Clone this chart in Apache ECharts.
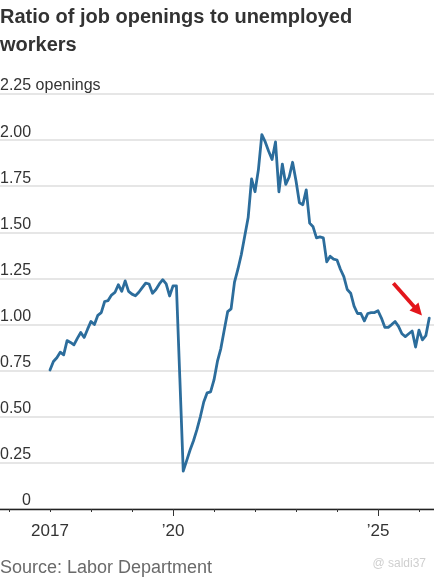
<!DOCTYPE html>
<html><head><meta charset="utf-8">
<script src="https://cdn.jsdelivr.net/npm/echarts@6/dist/echarts.min.js"></script>
<style>html,body{margin:0;padding:0;background:#fff}#c{width:434px;height:579px}</style>
</head><body><div id="c"></div>
<script>
// Monthly ratio of job openings to unemployed workers, Jan 2017 onward
const firstMonth = 24; // Jan 2017, counted in months since Jan 2015
const ratio = [
  0.754, 0.80, 0.82, 0.85, 0.836, 0.913, 0.903, 0.89, 0.925, 0.957, 0.93, 0.975,
  1.017, 1.00, 1.05, 1.065, 1.125, 1.13, 1.16, 1.174, 1.216, 1.18, 1.237, 1.18,
  1.165, 1.156, 1.175, 1.20, 1.225, 1.22, 1.17, 1.19, 1.22, 1.243, 1.22, 1.155,
  1.21, 1.21, 0.71, 0.205, 0.262, 0.32, 0.37, 0.43, 0.50, 0.58, 0.63, 0.635,
  0.70, 0.80, 0.87, 0.97, 1.07, 1.085, 1.23, 1.30, 1.38, 1.48, 1.58, 1.79,
  1.72, 1.84, 2.03, 1.99, 1.94, 1.895, 1.99, 1.72, 1.87, 1.76, 1.80, 1.88,
  1.78, 1.66, 1.65, 1.73, 1.55, 1.53, 1.47, 1.475, 1.47, 1.34, 1.37, 1.355,
  1.35, 1.30, 1.26, 1.19, 1.17, 1.10, 1.06, 1.06, 1.02, 1.06, 1.065, 1.065,
  1.075, 1.035, 0.985, 0.985, 1.0, 1.017, 0.99, 0.95, 0.935, 0.95, 0.965, 0.878,
  0.97, 0.917, 0.94, 1.035
];
const xTickLabels = { 24: '2017', 60: '\u201920', 120: '\u201925' };
const yUnit = 'openings';
const arrowFrom = [124.5, 1.224];
const arrowTo = [131.7, 1.074];

const FONT = 'Liberation Sans, Arial, sans-serif';
const chart = echarts.init(document.getElementById('c'), null, { renderer: 'canvas' });
const seriesData = ratio.map((v, i) => [firstMonth + i, v]);

chart.setOption({
  animation: false,
  backgroundColor: '#fff',
  title: {
    text: 'Ratio of job openings to unemployed\nworkers',
    left: 0, top: 3, padding: 0,
    textStyle: { fontFamily: FONT, fontSize: 20, fontWeight: 'bold', color: '#333', lineHeight: 28 }
  },
  grid: { left: -32, right: -26, top: 94, bottom: 70, containLabel: false, outerBoundsMode: 'none' },
  xAxis: [{
    type: 'value', min: 0, max: 144, interval: 12, position: 'bottom',
    axisLine: { show: true, onZero: false, lineStyle: { color: '#222', width: 1.3 } },
    axisTick: { show: true, length: 3, lineStyle: { color: '#333', width: 1 } },
    splitLine: { show: false },
    axisLabel: {
      show: true, margin: 14, fontFamily: FONT, fontSize: 17, lineHeight: 17, color: '#333',
      formatter: v => xTickLabels[Math.round(v)] || ''
    }
  }, {
    type: 'value', min: 0, max: 144, interval: 60, position: 'bottom',
    axisLine: { show: false },
    axisTick: { show: true, length: 7, lineStyle: { color: '#333', width: 1 } },
    splitLine: { show: false },
    axisLabel: { show: false }
  }],
  yAxis: {
    type: 'value', min: 0, max: 2.25, interval: 0.25,
    axisLine: { show: false }, axisTick: { show: false },
    splitLine: { show: true, lineStyle: { color: '#dedede', width: 1.5 } },
    axisLabel: {
      inside: true, margin: 32, verticalAlign: 'bottom', lineHeight: 16,
      fontFamily: FONT, fontSize: 16, color: '#333',
      formatter: v => {
        if (Math.abs(v) < 1e-9) return '{z|0}';
        if (Math.abs(v - 2.25) < 1e-9) return v.toFixed(2) + ' ' + yUnit;
        return v.toFixed(2);
      },
      rich: { z: { padding: [0, 0, 0, 22], fontFamily: FONT, fontSize: 16, color: '#333', lineHeight: 16 } }
    }
  },
  series: [{
    type: 'line', xAxisIndex: 0, data: seriesData, showSymbol: false, symbol: 'none',
    lineStyle: { color: '#2c6d9c', width: 2.8, join: 'round', cap: 'round' },
    markLine: {
      silent: true, symbol: ['none', 'triangle'], symbolSize: 12,
      lineStyle: { color: '#e3161c', width: 3.8, type: 'solid' },
      label: { show: false },
      data: [[{ coord: arrowFrom }, { coord: arrowTo }]]
    }
  }],
  graphic: [{
    type: 'text', left: 0, top: 559,
    style: { text: 'Source: Labor Department', font: '18px ' + FONT, fill: '#6a6a6a', lineHeight: 18 }
  }, {
    type: 'text', right: 8, top: 558,
    style: { text: '@ saldi37', font: '12px ' + FONT, fill: '#cfcfcf' }
  }]
});
</script></body></html>
